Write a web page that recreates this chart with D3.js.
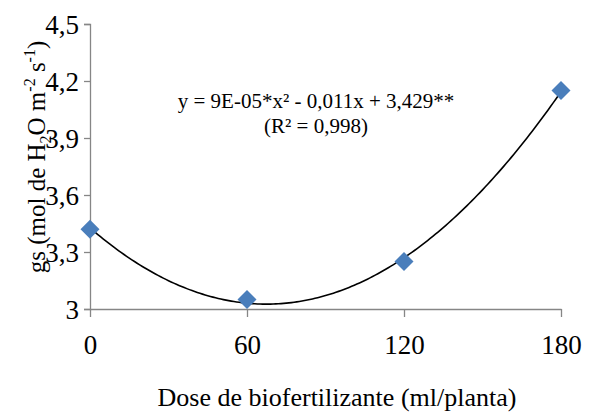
<!DOCTYPE html>
<html>
<head>
<meta charset="utf-8">
<script src="https://cdn.jsdelivr.net/npm/d3@7"></script>
<style>
  body { margin: 0; background: #fff; }
</style>
</head>
<body>
<div id="chart"></div>
<script>
// dados
var doses = [0, 60, 120, 180];
var gsValues = [3.42, 3.05, 3.25, 4.15];
var yTicks = [3, 3.3, 3.6, 3.9, 4.2, 4.5];
var xTicks = [0, 60, 120, 180];
var equationLines = ["y = 9E-05*x\u00B2 - 0,011x + 3,429**", "(R\u00B2 = 0,998)"];

var width = 608, height = 414;
var margin = {top: 24, right: 47, bottom: 105, left: 90};
var serif = "'Liberation Serif', 'Times New Roman', Times, serif";

var svg = d3.select("#chart").append("svg")
    .attr("width", width)
    .attr("height", height)
    .style("font-family", serif);

var x = d3.scaleLinear().domain([0, 180]).range([margin.left, width - margin.right]);
var y = d3.scaleLinear().domain([3, 4.5]).range([height - margin.bottom, margin.top]);

// eixo y
var gy = svg.append("g")
    .attr("transform", "translate(" + margin.left + ",0)")
    .call(d3.axisLeft(y).tickValues(yTicks).tickSize(6).tickPadding(5).tickFormat(function (d) {
        return d === 3 ? "3" : d.toFixed(1).replace(".", ",");
    }));
gy.attr("font-family", serif).attr("font-size", 27);
gy.select(".domain").attr("stroke", "#868686").attr("stroke-width", 1.3);
gy.selectAll(".tick line").attr("stroke", "#868686").attr("stroke-width", 1.3);
gy.selectAll("text").attr("dy", "0.34em");

// eixo x
var gx = svg.append("g")
    .attr("transform", "translate(0," + (height - margin.bottom) + ")")
    .call(d3.axisBottom(x).tickValues(xTicks).tickSize(8).tickSizeOuter(0).tickPadding(18));
gx.attr("font-family", serif).attr("font-size", 27);
gx.select(".domain").attr("stroke", "#868686").attr("stroke-width", 1.3);
gx.selectAll(".tick line").attr("stroke", "#868686").attr("stroke-width", 1.3);

// linha de tendencia polinomial (minimos quadrados, grau 2)
function quadFit(xs, ys) {
    var s = [0, 0, 0, 0, 0], t = [0, 0, 0];
    xs.forEach(function (xi, i) {
        for (var k = 0; k < 5; k++) s[k] += Math.pow(xi, k);
        for (var k2 = 0; k2 < 3; k2++) t[k2] += Math.pow(xi, k2) * ys[i];
    });
    var m = [[s[0], s[1], s[2], t[0]], [s[1], s[2], s[3], t[1]], [s[2], s[3], s[4], t[2]]];
    for (var i = 0; i < 3; i++) {
        for (var j = i + 1; j < 3; j++) {
            var f = m[j][i] / m[i][i];
            for (var c = i; c < 4; c++) m[j][c] -= f * m[i][c];
        }
    }
    var r = [0, 0, 0];
    for (var i2 = 2; i2 >= 0; i2--) {
        var v = m[i2][3];
        for (var c2 = i2 + 1; c2 < 3; c2++) v -= m[i2][c2] * r[c2];
        r[i2] = v / m[i2][i2];
    }
    return function (xv) { return r[0] + r[1] * xv + r[2] * xv * xv; };
}
var trend = quadFit(doses, gsValues);
var curvePts = d3.range(0, 180.5, 1);

svg.append("path")
    .datum(curvePts)
    .attr("fill", "none")
    .attr("stroke", "#000")
    .attr("stroke-width", 1.6)
    .attr("d", d3.line().x(function (d) { return x(d); }).y(function (d) { return y(trend(d)); }));

// pontos
svg.selectAll(".pt")
    .data(doses)
    .enter().append("path")
    .attr("class", "pt")
    .attr("transform", function (d, i) { return "translate(" + x(d) + "," + y(gsValues[i]) + ")"; })
    .attr("d", "M0,-9.5L9.5,0L0,9.5L-9.5,0Z")
    .attr("fill", "#4A7EBB");

// equacao
svg.append("text")
    .attr("x", 316).attr("y", 108)
    .attr("text-anchor", "middle")
    .attr("font-size", 21)
    .selectAll("tspan")
    .data(equationLines)
    .enter().append("tspan")
    .attr("x", 316)
    .attr("dy", function (d, i) { return i === 0 ? 0 : 25; })
    .text(function (d) { return d; });

// titulo eixo x
svg.append("text")
    .attr("x", 337).attr("y", 406)
    .attr("text-anchor", "middle")
    .attr("font-size", 26)
    .text("Dose de biofertilizante (ml/planta)");

// titulo eixo y
var yt = svg.append("text")
    .attr("transform", "translate(45,157) rotate(-90)")
    .attr("text-anchor", "middle")
    .attr("font-size", 25);
yt.append("tspan").text("gs (mol de H");
yt.append("tspan").attr("dy", 6).attr("font-size", 16).text("2");
yt.append("tspan").attr("dy", -6).text("O m");
yt.append("tspan").attr("dy", -10).attr("font-size", 16).text("-2");
yt.append("tspan").attr("dy", 10).text(" s");
yt.append("tspan").attr("dy", -10).attr("font-size", 16).text("-1");
yt.append("tspan").attr("dy", 10).text(")");
</script>
</body>
</html>
